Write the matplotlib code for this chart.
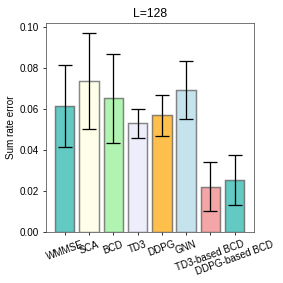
import numpy as np
from matplotlib import pyplot as plt

plt.rcParams['font.family'] = ['Liberation Sans', 'DejaVu Sans']

methods = ["WMMSE", "SCA", "BCD", "TD3", "DDPG", "GNN", "TD3-based BCD", "DDPG-based BCD"]
errors = [0.0614, 0.0735, 0.0652, 0.0530, 0.0569, 0.0692, 0.0222, 0.0255]
stds = [0.0201, 0.0234, 0.0217, 0.0070, 0.0100, 0.0140, 0.0120, 0.0121]
colors = ["lightseagreen", "lightyellow", "lightgreen", "lavender",
          "orange", "lightblue", "lightcoral", "lightseagreen"]

dpi = 70.75
fig = plt.figure(figsize=(4, 4), dpi=dpi)
ax = fig.add_axes([0.161, 0.179, 0.736, 0.741])

x = np.arange(len(methods))
ax.bar(x, errors, width=0.8, color=colors, alpha=0.7,
       edgecolor="#555555", linewidth=1.5)
ax.errorbar(x, errors, yerr=stds, fmt="none", ecolor="black",
            elinewidth=1.3, capsize=7.5, capthick=1.3)

ax.set_ylim(0, 0.102)
ax.set_xticks(x)
ax.set_xticklabels(methods, rotation=20, ha="center")
ax.set_ylabel("Sum rate error")
ax.set_title("L=128", fontsize=12.5)
for s in ax.spines.values():
    s.set_color("#555555")

fig.savefig("out.png", dpi=dpi)
